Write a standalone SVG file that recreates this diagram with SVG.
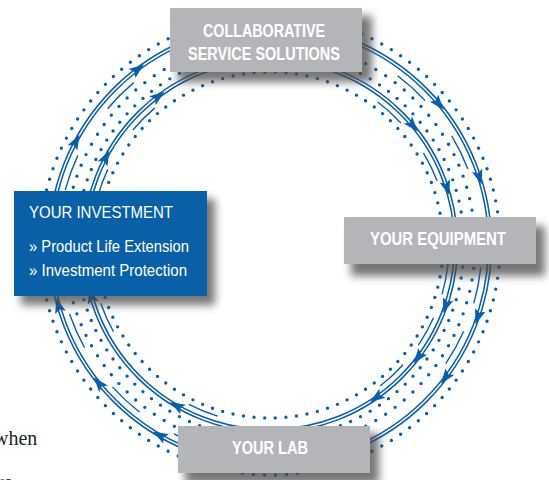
<svg xmlns="http://www.w3.org/2000/svg" xmlns:xlink="http://www.w3.org/1999/xlink" width="549" height="480" viewBox="0 0 549 480">
<style>
.dot{fill:none;stroke:#0a5ea8;stroke-width:3.4;stroke-linecap:round;stroke-dasharray:0 1}
.dbl{fill:none;stroke:#0a5ea8;stroke-width:4.6}
.dblw{fill:none;stroke:#fff;stroke-width:1.5}
.thin{fill:none;stroke:#0a5ea8;stroke-width:1.4}
.ah{fill:#0a5ea8}
.gbox{fill:#b4b5b9}
.bbox{fill:#0a60a6}
.shadow{fill:#4a4a4a;opacity:0.75;filter:url(#blur)}
.lbl{font-family:"Liberation Sans Narrow","Liberation Sans",Arial,sans-serif;font-weight:bold;fill:#fff;font-size:17.5px}
.inv{font-family:"Liberation Sans Narrow","Liberation Sans",Arial,sans-serif;fill:#fff;font-size:16.5px}
.body{font-family:"Liberation Serif","Times New Roman",serif;fill:#222;font-size:20px}
</style>
<defs>
<filter id="blur" x="-30%" y="-30%" width="160%" height="180%"><feGaussianBlur stdDeviation="4.5"/></filter>
<path id="ah" class="ah" d="M8,0 L-7,-5.5 L-4,0 L-7,5.5 Z"/>
<path id="to" class="thin" d="M212,0 A212,212 0 0 1 208.78,36.81"/>
<path id="ti" class="thin" d="M179,0 A179,179 0 0 1 176.28,31.08"/>
</defs>
<rect width="549" height="480" fill="#fff"/>
<text class="body" x="-6" y="445">when</text>
<text class="body" x="-3" y="489">re</text>
<g id="connectors" transform="translate(270,245)">
<circle class="dot" r="230" pathLength="130"/>
<circle class="dot" r="205" pathLength="110"/>
<circle class="dot" r="194" pathLength="110"/>
<circle class="dot" r="173" pathLength="102"/>
<circle class="dbl" r="220"/><circle class="dblw" r="220"/>
<circle class="dbl" r="186"/><circle class="dblw" r="186"/>
<g>
<use xlink:href="#to" transform="rotate(6)"/>
<use xlink:href="#to" transform="rotate(24)"/>
<use xlink:href="#to" transform="rotate(107)"/>
<use xlink:href="#to" transform="rotate(128)"/>
<use xlink:href="#to" transform="rotate(151)"/>
<use xlink:href="#to" transform="rotate(195)"/>
<use xlink:href="#to" transform="rotate(220)"/>
<use xlink:href="#to" transform="rotate(307)"/>
<use xlink:href="#to" transform="rotate(329)"/>
<use xlink:href="#ti" transform="rotate(6)"/>
<use xlink:href="#ti" transform="rotate(24)"/>
<use xlink:href="#ti" transform="rotate(42)"/>
<use xlink:href="#ti" transform="rotate(107)"/>
<use xlink:href="#ti" transform="rotate(151)"/>
<use xlink:href="#ti" transform="rotate(195)"/>
<use xlink:href="#ti" transform="rotate(220)"/>
<use xlink:href="#ti" transform="rotate(307)"/>
<use xlink:href="#ti" transform="rotate(329)"/>
</g>
<g>
<use xlink:href="#ah" transform="rotate(19) translate(220,0) rotate(90)"/>
<use xlink:href="#ah" transform="rotate(37) translate(220,0) rotate(90)"/>
<use xlink:href="#ah" transform="rotate(120) translate(220,0) rotate(90)"/>
<use xlink:href="#ah" transform="rotate(141) translate(220,0) rotate(90)"/>
<use xlink:href="#ah" transform="rotate(164) translate(220,0) rotate(90)"/>
<use xlink:href="#ah" transform="rotate(208) translate(220,0) rotate(90)"/>
<use xlink:href="#ah" transform="rotate(233) translate(220,0) rotate(90)"/>
<use xlink:href="#ah" transform="rotate(320) translate(220,0) rotate(90)"/>
<use xlink:href="#ah" transform="rotate(342) translate(220,0) rotate(90)"/>
<use xlink:href="#ah" transform="rotate(19) translate(186,0) rotate(90)"/>
<use xlink:href="#ah" transform="rotate(37) translate(186,0) rotate(90)"/>
<use xlink:href="#ah" transform="rotate(55) translate(186,0) rotate(90)"/>
<use xlink:href="#ah" transform="rotate(120) translate(186,0) rotate(90)"/>
<use xlink:href="#ah" transform="rotate(164) translate(186,0) rotate(90)"/>
<use xlink:href="#ah" transform="rotate(208) translate(186,0) rotate(90)"/>
<use xlink:href="#ah" transform="rotate(233) translate(186,0) rotate(90)"/>
<use xlink:href="#ah" transform="rotate(320) translate(186,0) rotate(90)"/>
<use xlink:href="#ah" transform="rotate(342) translate(186,0) rotate(90)"/>
</g>
</g>
<g id="node-collab">
<rect class="shadow" x="178" y="16" width="194" height="66"/>
<rect class="gbox" x="170" y="8" width="192" height="64"/>
<text class="lbl" x="264" y="37" text-anchor="middle" textLength="122" lengthAdjust="spacingAndGlyphs">COLLABORATIVE</text>
<text class="lbl" x="264" y="60" text-anchor="middle" textLength="152" lengthAdjust="spacingAndGlyphs">SERVICE SOLUTIONS</text>
</g>
<g id="node-equipment">
<rect class="shadow" x="351" y="226" width="194" height="50"/>
<rect class="gbox" x="344" y="217" width="192" height="47"/>
<text class="lbl" x="438" y="245" text-anchor="middle" textLength="136" lengthAdjust="spacingAndGlyphs">YOUR EQUIPMENT</text>
</g>
<g id="node-investment">
<rect class="shadow" x="21" y="199" width="194" height="106"/>
<rect class="bbox" x="14" y="191" width="193" height="105"/>
<text class="inv" x="29" y="218" textLength="144" lengthAdjust="spacingAndGlyphs">YOUR INVESTMENT</text>
<text class="inv" x="29" y="252" textLength="160" lengthAdjust="spacingAndGlyphs">» Product Life Extension</text>
<text class="inv" x="29" y="276" textLength="158" lengthAdjust="spacingAndGlyphs">» Investment Protection</text>
</g>
<g id="node-lab">
<rect class="shadow" x="185" y="434" width="194" height="50"/>
<rect class="gbox" x="178" y="426" width="192" height="47"/>
<text class="lbl" x="270" y="454" text-anchor="middle" textLength="76" lengthAdjust="spacingAndGlyphs">YOUR LAB</text>
</g>
</svg>
